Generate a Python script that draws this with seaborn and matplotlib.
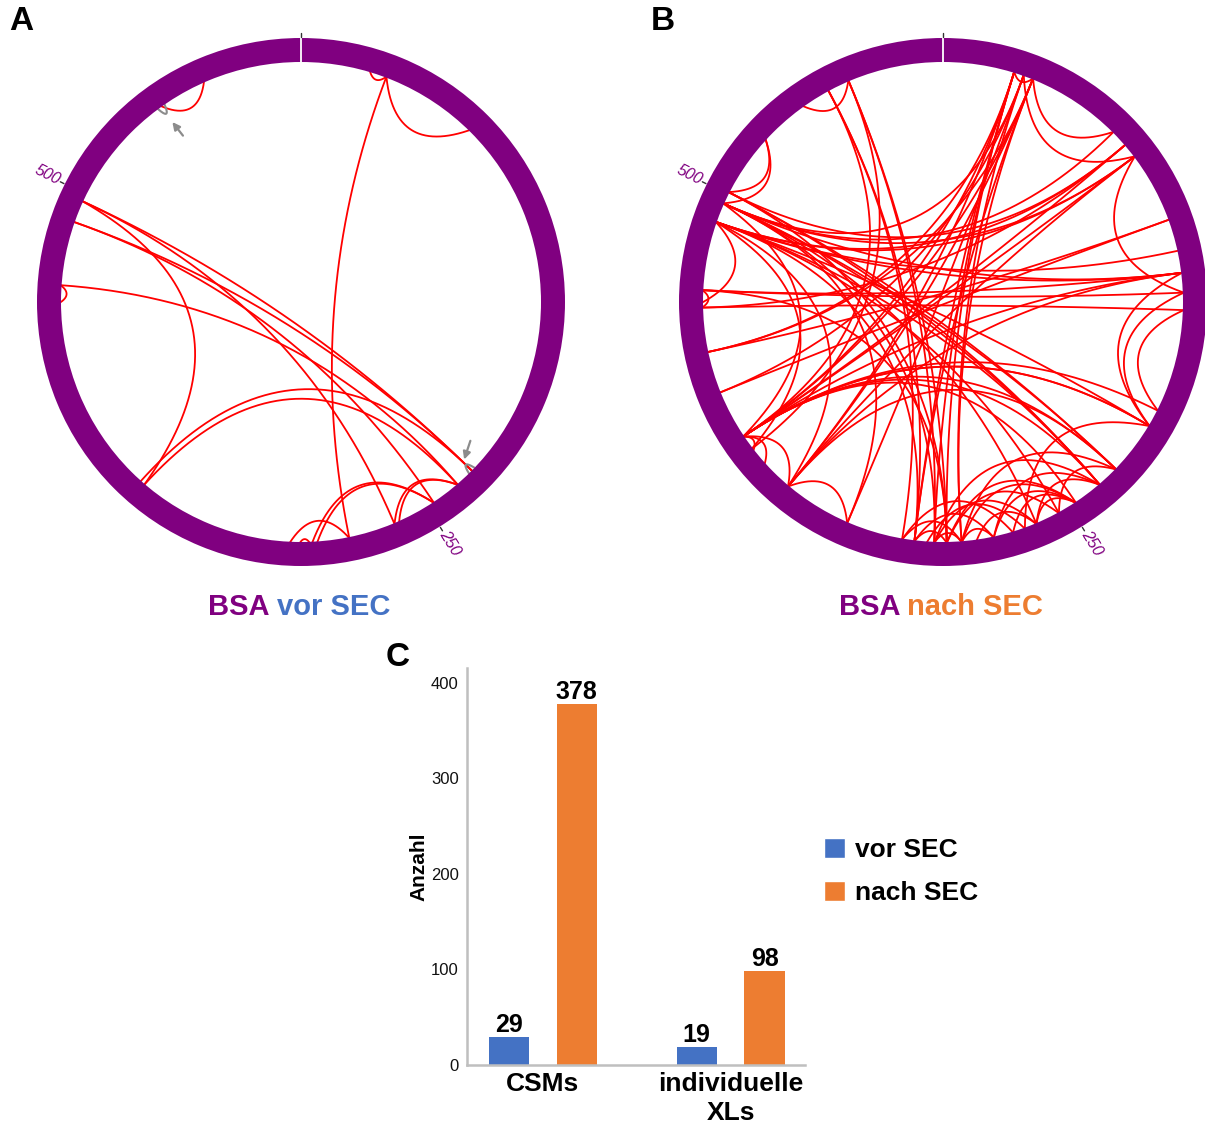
import numpy as np
import pandas as pd
import matplotlib
matplotlib.use("Agg")
import matplotlib.pyplot as plt
from matplotlib.patches import Wedge, Patch
import seaborn as sns

# ---------------- data ----------------
PROTEIN_LEN = 607
TICK_RESIDUES = [250, 500]

# crosslinks (residue pairs) before SEC
links_vor = [
    (567, 547), (28, 35), (35, 75), (35, 284),
    (497, 372), (497, 227), (488, 227), (462, 235), (455, 462),
    (372, 235), (374, 227), (488, 247),
    (265, 235), (263, 235), (297, 247), (299, 247), (308, 284), (300, 304),
    (497, 265),
]
self_links_vor = [547, 227]

# crosslinks (residue pairs) after SEC
links_nach = [
    (547, 568), (527, 496), (527, 501),
    (559, 315), (568, 307), (568, 302), (559, 320), (559, 398), (568, 392),
    (496, 89), (488, 89), (501, 83), (488, 83), (496, 76),
    (488, 131), (496, 140), (488, 140),
    (496, 226), (488, 235), (501, 226), (501, 235), (496, 235), (488, 204),
    (496, 307), (488, 315), (501, 302), (496, 343),
    (488, 371), (496, 398), (488, 392), (488, 455),
    (496, 265), (488, 255), (496, 33),
    (460, 140), (460, 148), (453, 155), (460, 453), (453, 83), (460, 302),
    (435, 29), (435, 37), (418, 33), (418, 118), (435, 118),
    (398, 226), (398, 235), (398, 204), (398, 197), (398, 247), (398, 89),
    (398, 83), (398, 29), (398, 37), (398, 140), (398, 384), (398, 391),
    (398, 371),
    (371, 37), (371, 29), (371, 343), (371, 140), (371, 226),
    (315, 283), (307, 265), (302, 255), (296, 247), (320, 275), (283, 247),
    (265, 235), (275, 247), (296, 283), (307, 296), (315, 302), (290, 265),
    (255, 226), (302, 247), (310, 270), (283, 235), (265, 247), (320, 296),
    (226, 296), (235, 307),
    (29, 37), (37, 76), (33, 89), (29, 307), (29, 302), (37, 315),
    (33, 296), (37, 296), (29, 315), (33, 343),
    (89, 148), (140, 204), (155, 197), (148, 204), (89, 371),
    (204, 270), (204, 398),
]
self_links_nach = []

bar_categories = ["CSMs", "individuelle\nXLs"]
bar_groups = ["vor SEC", "nach SEC"]
vals_vor = [29, 19]
vals_nach = [378, 98]

PURPLE = "#800080"
BLUE = "#4472C4"
ORANGE = "#ED7D31"
RED = "#FF0000"
GREY = "#8C8C8C"

# ---------------- setup ----------------
sns.set_theme(style="white")
plt.rcParams['font.family'] = ['Liberation Sans', 'DejaVu Sans']
for k in ['text.color', 'axes.labelcolor', 'xtick.color', 'ytick.color']:
    plt.rcParams[k] = 'black'

W, H = 1205, 1126
fig = plt.figure(figsize=(W / 100, H / 100), dpi=100)
fig.patch.set_facecolor("white")

R_OUT, R_IN = 264, 240
HALF = 285


def add_px_axes(cx, cy, half):
    ax = fig.add_axes([(cx - half) / W, (H - cy - half) / H, 2 * half / W, 2 * half / H])
    ax.set_xlim(-half, half)
    ax.set_ylim(-half, half)
    ax.axis('off')
    return ax


def ang(res):
    return res / PROTEIN_LEN * 360.0


def pos_deg(th_deg, r):
    th = np.deg2rad(th_deg)
    return np.array([r * np.sin(th), r * np.cos(th)])


def pos(res, r):
    return pos_deg(ang(res), r)


def link_curve(r1, r2, r=R_IN + 1, rc_frac=None):
    t1, t2 = ang(r1), ang(r2)
    d = (t2 - t1) % 360.0
    if d > 180:
        sep = 360.0 - d
        mid = t2 + sep / 2
    else:
        sep = d
        mid = t1 + sep / 2
    if rc_frac is None:
        rc_frac = max(0.0, 1.0 - sep / 85.0)
    p0 = pos_deg(t1, r)
    p2 = pos_deg(t2, r)
    c = pos_deg(mid, R_IN * rc_frac)
    t = np.linspace(0, 1, 150)[:, None]
    return (1 - t) ** 2 * p0 + 2 * (1 - t) * t * c + t ** 2 * p2


def draw_circle(ax, links, self_links):
    for r1, r2 in links:
        pts = link_curve(r1, r2)
        ax.plot(pts[:, 0], pts[:, 1], color=RED, lw=1.3, zorder=2)
    for r in self_links:
        pts = link_curve(r - 1.6, r + 1.6, r=R_IN, rc_frac=0.93)
        ax.plot(pts[:, 0], pts[:, 1], color=GREY, lw=1.5, zorder=2)
    ax.add_patch(Wedge((0, 0), R_OUT, 0, 360, width=R_OUT - R_IN,
                       facecolor=PURPLE, edgecolor='none', zorder=3))
    ax.plot([0, 0], [R_IN - 1, R_OUT + 1], color='white', lw=1.3, zorder=4)
    ax.plot([0, 0], [R_OUT + 1, R_OUT + 5], color='#333333', lw=1.0, zorder=4)
    for t in TICK_RESIDUES:
        pa = pos(t, R_OUT + 1)
        pb = pos(t, R_OUT + 5)
        ax.plot([pa[0], pb[0]], [pa[1], pb[1]], color='#333333', lw=1.0, zorder=4)
        th = ang(t)
        rot = 90 - th
        ha = 'left'
        if th > 180:
            rot += 180
            ha = 'right'
        rot = ((rot + 180) % 360) - 180
        lp = pos(t, R_OUT + 6)
        ax.text(lp[0], lp[1], str(t), rotation=rot, rotation_mode='anchor',
                ha=ha, va='center', color=PURPLE, fontsize=11.5, style='italic', zorder=5)


ax_a = add_px_axes(301, 302, HALF)
draw_circle(ax_a, links_vor, self_links_vor)
# grey arrows pointing at the self links
for r, rr, dxy in [(547, R_IN - 16, (14, -18)), (227, R_IN - 12, (8, 24))]:
    tip = pos(r, rr)
    ax_a.annotate('', xy=tip, xytext=(tip[0] + dxy[0], tip[1] + dxy[1]),
                  arrowprops=dict(arrowstyle='-|>', color=GREY, lw=1.6, mutation_scale=11),
                  zorder=5)

ax_b = add_px_axes(943, 302, HALF)
draw_circle(ax_b, links_nach, self_links_nach)

# ---------------- titles ----------------
renderer = fig.canvas.get_renderer()


def colored_title(cx, cy, parts, size=21):
    full = fig.text(0, 0, " ".join(p for p, _ in parts), fontsize=size, fontweight='bold')
    wf = full.get_window_extent(renderer).width
    full.remove()
    fig.text((cx - wf / 2) / W, 1 - cy / H, parts[0][0], fontsize=size, fontweight='bold',
             color=parts[0][1], ha='left', va='center')
    fig.text((cx + wf / 2) / W, 1 - cy / H, parts[1][0], fontsize=size, fontweight='bold',
             color=parts[1][1], ha='right', va='center')


colored_title(299, 607, [("BSA", PURPLE), ("vor SEC", BLUE)])
colored_title(941, 607, [("BSA", PURPLE), ("nach SEC", ORANGE)])

for letter, x, y in [("A", 21, 22), ("B", 663, 22), ("C", 398, 657)]:
    fig.text(x / W, 1 - y / H, letter, fontsize=24, fontweight='bold', ha='center', va='center')

# ---------------- bar chart ----------------
ax_c = fig.add_axes([467 / W, (H - 1065) / H, 338 / W, 397 / H])
df = pd.DataFrame({
    "Kategorie": bar_categories * 2,
    "Gruppe": [bar_groups[0]] * len(vals_vor) + [bar_groups[1]] * len(vals_nach),
    "Anzahl": vals_vor + vals_nach,
})
sns.barplot(data=df, x="Kategorie", y="Anzahl", hue="Gruppe", palette=[BLUE, ORANGE],
            saturation=1, width=0.723, gap=0.41, ax=ax_c, linewidth=0, errorbar=None,
            legend=False)
for cont in ax_c.containers:
    ax_c.bar_label(cont, fontsize=18, fontweight='bold', padding=0)
ax_c.set_ylim(0, 415.7)
ax_c.set_xlim(-0.402, 1.396)
ax_c.set_yticks([0, 100, 200, 300, 400])
ax_c.set_facecolor('none')
for s in ['top', 'right']:
    ax_c.spines[s].set_visible(False)
for s in ['left', 'bottom']:
    ax_c.spines[s].set_color('#BFBFBF')
    ax_c.spines[s].set_linewidth(1.8)
ax_c.tick_params(axis='both', length=0)
ax_c.tick_params(axis='y', labelsize=12, labelcolor='#111111', pad=6)
ax_c.tick_params(axis='x', pad=5)
for lab in ax_c.get_xticklabels():
    lab.set_fontsize(19)
    lab.set_fontweight('bold')
    lab.set_linespacing(1.25)
ax_c.set_xlabel('')
ax_c.set_ylabel('Anzahl', fontsize=15, fontweight='bold')
ax_c.yaxis.set_label_coords(-0.115, 0.5)

handles = [Patch(facecolor=BLUE), Patch(facecolor=ORANGE)]
fig.legend(handles, bar_groups, loc='upper left', bbox_to_anchor=(824 / W, 1 - 838 / H),
           frameon=False, prop={'weight': 'bold', 'size': 19}, handlelength=0.78,
           handleheight=0.78, handletextpad=0.4, labelspacing=0.72, borderpad=0,
           borderaxespad=0)

fig.savefig("out.png", dpi=100)
